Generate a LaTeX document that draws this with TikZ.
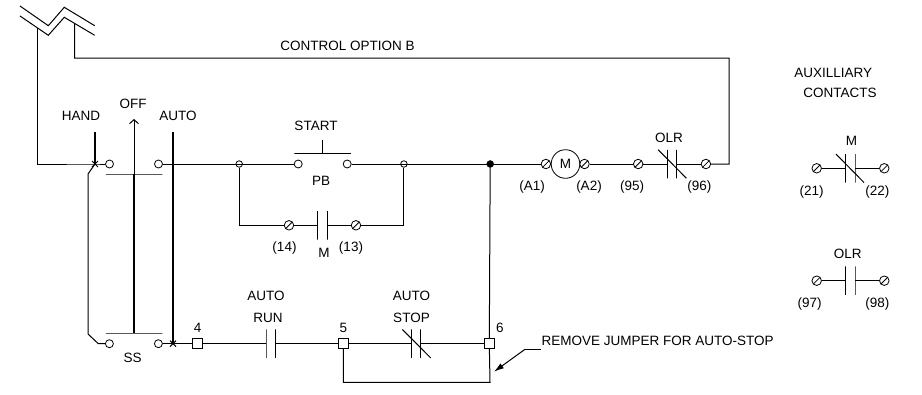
\documentclass[tikz,border=0pt]{standalone}
\usepackage{fontspec}
\setmainfont{Liberation Sans}
\usetikzlibrary{arrows,arrows.meta,positioning,shapes}

\begin{document}
\begin{tikzpicture}[
      x=1pt,y=-1pt,
      every node/.style={on grid},
      wire/.style={line width=1pt},
      bus/.style={line width=1.5pt},
      rod/.style={line width=1.9pt},
      term/.style={draw,circle,inner sep=0pt,minimum size=8pt,line width=0.8pt},
      tap/.style={draw,circle,inner sep=0pt,minimum size=6.5pt,line width=0.8pt},
      screw/.style={draw,circle,inner sep=0pt,minimum size=9.5pt,line width=0.8pt,
        path picture={\draw (path picture bounding box.south west) -- (path picture bounding box.north east);}},
      plate/.style={draw,rectangle,inner sep=0pt,outer sep=0pt,minimum width=0pt,minimum height=28.5pt,line width=1pt},
      bar/.style={draw,rectangle,inner sep=0pt,outer sep=0pt,minimum height=0pt,minimum width=56.5pt,line width=1pt},
      sqr/.style={draw,rectangle,fill=white,inner sep=0pt,minimum size=10pt,line width=0.8pt},
      xing/.style={draw,cross out,inner sep=0pt,minimum size=5pt,line width=1pt},
      lbl/.style={font=\fontsize{13.5}{16}\selectfont,inner sep=0pt},
      >={Latex[length=10pt,width=6pt]}
    ]
    \useasboundingbox (0,0) rectangle (922,394);

    % the zigzag break
    \draw[wire] (20,6) -- (48.3,25.7) -- (64.3,7.3) -- (94.7,25.7);
    \draw[wire] (20,16) -- (48.3,35.3) -- (64.3,17.3) -- (94.7,35.3);

    % top rung
    \node[xing] (xhand) at (95,164) {};
    \node[term, right=14.5pt of xhand] (thand) {};
    \node[term, right=49pt of thand] (tauto) {};
    \node[tap, right=80.7pt of tauto] (tapl) {};
    \node[term, right=59pt of tapl] (pbl) {};
    \node[term, right=49pt of pbl] (pbr) {};
    \node[tap, right=56.7pt of pbr] (tapr) {};
    \node[draw,circle,fill=black,inner sep=0pt,minimum size=7pt, right=86.3pt of tapr] (dot) {};
    \node[screw, right=55.7pt of dot] (a1) {};
    \node[draw,circle,inner sep=0pt,minimum size=28.6pt,line width=0.8pt,lbl, right=19.6pt of a1] (motor) {M};
    \node[screw, right=19pt of motor] (a2) {};
    \node[screw, right=53.7pt of a2] (s95) {};
    \node[plate, right=29pt of s95] (ol1) {};
    \node[plate, right=9.7pt of ol1] (ol2) {};
    \node[screw, right=29pt of ol2] (s96) {};

    % seal-in branch
    \node[screw] (s14) at (289,225.3) {};
    \node[plate, right=28.7pt of s14] (m1) {};
    \node[plate, right=9.6pt of m1] (m2) {};
    \node[screw, right=28.7pt of m2] (s13) {};

    % bottom rung
    \node[term] (bhand) at (109.4,343.7) {};
    \node[term, right=49pt of bhand] (bauto) {};
    \node[xing, right=14.6pt of bauto] (xauto) {};
    \node[sqr, right=24.7pt of xauto] (sq4) {};
    \node[plate, right=68.3pt of sq4] (r1) {};
    \node[plate, right=9.3pt of r1] (r2) {};
    \node[sqr, right=68pt of r2] (sq5) {};
    \node[plate, right=68.4pt of sq5] (st1) {};
    \node[plate, right=9pt of st1] (st2) {};
    \node[sqr, right=68.6pt of st2] (sq6) {};

    % selector and push button bars
    \node[bar] (ssa) at (134,174) {};
    \node[bar] (ssb) at (134,333) {};
    \node[bar] (pbbar) at (322.5,153.7) {};

    % auxilliary contacts
    \node[screw] (s21) at (816.7,168.3) {};
    \node[plate, right=28.6pt of s21] (nc1) {};
    \node[plate, right=9.7pt of nc1] (nc2) {};
    \node[screw, right=29.3pt of nc2] (s22) {};
    \node[screw] (s97) at (816.7,280.7) {};
    \node[plate, right=28.6pt of s97] (no1) {};
    \node[plate, right=9.7pt of no1] (no2) {};
    \node[screw, right=29.3pt of no2] (s98) {};

    % free ends
    \coordinate (feeda) at (37,28);
    \coordinate (feedb) at (74.5,24);
    \coordinate (ctltop) at (729,58);
    \coordinate[right=23.3pt of s96] (ctlend);
    \coordinate (benda) at (88,174);
    \coordinate (bendb) at (88,334);
    \coordinate (bendc) at (98.3,343.7);
    \coordinate (handtop) at (95,132);
    \coordinate (autotop) at (173,132);
    \coordinate (offtip) at (134,119);
    \coordinate[above=13.7pt of pbbar] (pbtop);
    \coordinate (jumper) at (490,382.3);
    \coordinate (leada) at (540.7,349.3);
    \coordinate (leadb) at (525,349.3);
    \coordinate (leadc) at (494,371.7);
    \coordinate (branchl) at (tapl |- s14);
    \coordinate (branchr) at (tapr |- s13);

    % the wires
    \draw[wire] (feeda) |- (xhand.center) -- (thand);
    \draw[wire] (feedb) |- (ctltop) -- (ctlend) -- (s96);
    \draw[wire] (xhand.center) -- (benda) -- (bendb) -- (bendc) -- (bhand);
    \draw[wire] (tauto) -- (pbl);
    \draw[wire] (pbr) -- (a1);
    \draw[wire] (a2) -- (s95);
    \draw[wire] (s95) -- (ol1);
    \draw[wire] (ol2) -- (s96);
    \draw[wire] (tapl.south) -- (branchl) -- (s14);
    \draw[wire] (s14) -- (m1);
    \draw[wire] (m2) -- (s13);
    \draw[wire] (s13) -- (branchr) -- (tapr.south);
    \draw[wire] (dot) -- (sq6);
    \draw[wire] (sq5) -- (sq5 |- jumper) -- (jumper) -- (sq6);
    \draw[wire] (bauto) -- (sq4);
    \draw[bus] (sq4) -- (r1);
    \draw[bus] (r2) -- (sq5);
    \draw[bus] (sq5) -- (st1);
    \draw[bus] (st2) -- (sq6);
    \draw[wire] (s21) -- (nc1);
    \draw[wire] (nc2) -- (s22);
    \draw[wire] (s97) -- (no1);
    \draw[wire] (no2) -- (s98);

    % the operators
    \draw[rod] (handtop) -- (xhand.center);
    \draw[rod] (autotop) -- (xauto.center);
    \draw[rod] (ssa) -- (ssb);
    \draw[wire,-{Straight Barb[length=4pt,width=9pt]}] (ssa.center) -- (offtip);
    \draw[wire] (pbbar) -- (pbtop);

    % the slashes of the closed contacts
    \draw[wire] ([xshift=-9pt]ol1.north) -- ([xshift=9.5pt]ol2.south);
    \draw[wire] ([xshift=-9.3pt]st1.north) -- ([xshift=10pt]st2.south);
    \draw[wire] ([xshift=-9.3pt]nc1.north) -- ([xshift=9pt]nc2.south);

    % jumper note
    \node[lbl,anchor=west] (note) at (541.5,341) {REMOVE JUMPER FOR AUTO-STOP};
    \draw[wire] (leada) -- (leadb);
    \draw[wire,->] (leadb) -- (leadc);

    % the texts
    \node[lbl] (ctrl) at (347.5,46) {CONTROL OPTION B};
    \node[lbl] (lhand) at (81,116) {HAND};
    \node[lbl] (loff) at (133,104) {OFF};
    \node[lbl] (lauto) at (178,116) {AUTO};
    \node[lbl] (lss) at (132.7,358) {SS};
    \node[lbl] (lstart) at (316,126) {START};
    \node[lbl,below=16.5pt of pbl,xshift=23pt] (lpb) {PB};
    \node[lbl,below left=23pt and 4.5pt of s14] (l14) {(14)};
    \node[lbl] (lm) at (324,253) {M};
    \node[lbl,below left=23pt and 5pt of s13] (l13) {(13)};
    \node[lbl,below left=23pt and 13.7pt of a1] (la1) {(A1)};
    \node[lbl,below right=23pt and 4.5pt of a2] (la2) {(A2)};
    \node[lbl,below left=23pt and 6pt of s95] (l95) {(95)};
    \node[lbl,below left=23pt and 6.5pt of s96] (l96) {(96)};
    \node[lbl] (lolr) at (669,138) {OLR};
    \node[lbl] (lauto2) at (266,296) {AUTO};
    \node[lbl] (lrun) at (268,317.5) {RUN};
    \node[lbl] (lauto3) at (411.5,296) {AUTO};
    \node[lbl] (lstop) at (411.5,317.5) {STOP};
    \node[lbl,above=16pt of sq4] (l4) {4};
    \node[lbl,above=16pt of sq5] (l5) {5};
    \node[lbl,above right=16pt and 10.5pt of sq6] (l6) {6};
    \node[lbl] (laux) at (833.3,73.3) {AUXILLIARY};
    \node[lbl] (lcon) at (840,93.3) {CONTACTS};
    \node[lbl] (lm2) at (851.5,141) {M};
    \node[lbl,below left=23.5pt and 5pt of s21] (l21) {(21)};
    \node[lbl,below left=23.5pt and 7pt of s22] (l22) {(22)};
    \node[lbl] (lolr2) at (847.7,254) {OLR};
    \node[lbl,below left=23.5pt and 7pt of s97] (l97) {(97)};
    \node[lbl,below left=23.5pt and 7pt of s98] (l98) {(98)};
\end{tikzpicture}
\end{document}
